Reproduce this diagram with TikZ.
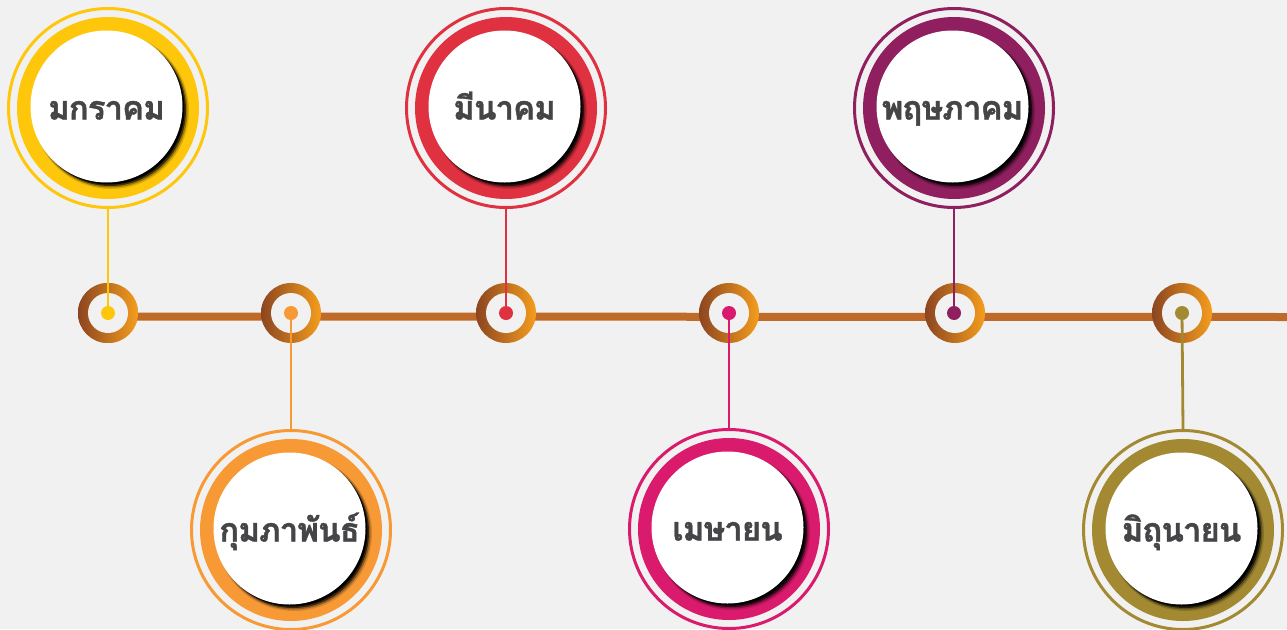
\documentclass[tikz,border=0pt]{standalone}
\usepackage{fontspec}
\newfontfamily\thaifont[Script=Thai, LetterSpace=-3, FakeBold=1.2]{Loma}
\definecolor{bg}{HTML}{F1F1F1}
\definecolor{txt}{HTML}{454547}
\definecolor{cjan}{HTML}{FFC70B}
\definecolor{cfeb}{HTML}{F79A35}
\definecolor{cmar}{HTML}{E03140}
\definecolor{capr}{HTML}{DA1A6C}
\definecolor{cmay}{HTML}{8F1F5F}
\definecolor{cjun}{HTML}{A38A32}
\definecolor{tlc}{HTML}{BF6A28}
\definecolor{ringL}{HTML}{8C4520}
\definecolor{ringR}{HTML}{F49D1E}
\tikzset{
  outerring/.style={circle, draw=#1, line width=3pt, minimum size=199pt, inner sep=0pt},
  thickdisk/.style={circle, fill=#1, minimum size=182pt, inner sep=0pt},
  monthnode/.style={circle, fill=white, minimum size=152pt, inner sep=0pt,
    text height=26pt, text depth=0pt,
    font=\thaifont\bfseries\fontsize{33}{38}\selectfont, text=txt},
  hub/.style={circle, left color=ringL, right color=ringR, minimum size=60pt, inner sep=0pt},
  hole/.style={circle, fill=bg, minimum size=40pt, inner sep=0pt},
  tdot/.style={circle, fill=#1, minimum size=14pt, inner sep=0pt},
  conn/.style={draw=#1, line width=2.8pt},
  tline/.style={draw=tlc, line width=8pt},
}
\newcommand\mstone[5]{%
  \node[outerring=#4] (o#1) at (#2,#3) {};
  \node[thickdisk=#4] (t#1) at (#2,#3) {};
  \fill[black, opacity=0.15] (#2+3,#3+3) circle (78pt);
  \fill[black, opacity=0.3] (#2+2.5,#3+2.5) circle (77pt);
  \fill[black, opacity=0.6] (#2+2,#3+2) circle (76pt);
  \fill[black] (#2+1,#3+1) circle (75.5pt);
  \node[monthnode] (m#1) at (#2-1.5,#3-1.5) {#5};
}
\newcommand\hubat[3]{%
  \node[hub] (h#1) at (#2,#3) {};
  \node[hole] (k#1) at (#2,#3) {};
}
\begin{document}
\begin{tikzpicture}[x=1pt, y=-1pt]
\fill[bg] (0,0) rectangle (1287,629);
\useasboundingbox (0,0) rectangle (1287,629);
% timeline
\coordinate (lend) at (1287,317);
\hubat{1}{108}{313}
\draw[tline] ([yshift=-3.5pt]h1.center) -- (lend);
\hubat{1}{108}{313}
\hubat{2}{291}{313}
\hubat{3}{506}{313}
\hubat{4}{729}{313}
\hubat{5}{955}{313}
\hubat{6}{1182}{313}
% milestones
\mstone{1}{108}{108}{cjan}{มกราคม}
\mstone{2}{291}{530}{cfeb}{กุมภาพันธ์}
\mstone{3}{506}{108}{cmar}{มีนาคม}
\mstone{4}{729}{529}{capr}{เมษายน}
\mstone{5}{954}{108}{cmay}{พฤษภาคม}
\mstone{6}{1183}{530}{cjun}{มิถุนายน}
% dots
\node[tdot=cjan] (d1) at (108,313) {};
\node[tdot=cfeb] (d2) at (291,313) {};
\node[tdot=cmar] (d3) at (506,313) {};
\node[tdot=capr] (d4) at (729,313) {};
\node[tdot=cmay] (d5) at (954,313) {};
\node[tdot=cjun] (d6) at (1182,313) {};
% connectors
\draw[conn=cjan] (d1.center) -- (o1.south);
\draw[conn=cfeb] (d2.center) -- (o2.north);
\draw[conn=cmar] (d3.center) -- (o3.south);
\draw[conn=capr] (d4.center) -- (o4.north);
\draw[conn=cmay] (d5.center) -- (o5.south);
\draw[conn=cjun] (d6.center) -- (o6.north);
\end{tikzpicture}
\end{document}
